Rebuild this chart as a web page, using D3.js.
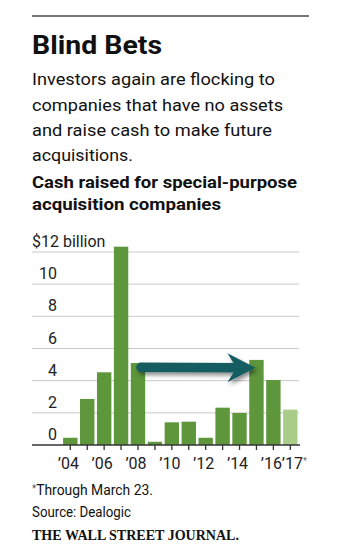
<!DOCTYPE html>
<html>
<head>
<meta charset="utf-8">
<script src="https://cdn.jsdelivr.net/npm/d3@7"></script>
<style>
  body { margin: 0; background: #fff; }
  text { font-family: Roboto, "Noto Sans", sans-serif; fill: #111; }
</style>
</head>
<body>
<div id="chart"></div>
<script>
// data
var years = ["2004", "2005", "2006", "2007", "2008", "2009", "2010",
             "2011", "2012", "2013", "2014", "2015", "2016", "2017"];
var cashRaised = [0.45, 2.86, 4.52, 12.33, 5.1, 0.2, 1.41,
                  1.45, 0.45, 2.32, 1.99, 5.29, 4.04, 2.2];
var partialYear = "2017";
var yTicks = [0, 2, 4, 6, 8, 10, 12];
var xLabels = { "2004": "\u201904", "2006": "\u201906", "2008": "\u201908", "2010": "\u201910",
                "2012": "\u201912", "2014": "\u201914", "2016": "\u201916", "2017": "\u201917" };
var arrowFrom = "2008", arrowTo = "2015", arrowLevel = 4.8;

var svg = d3.select("#chart")
    .append("svg")
    .attr("width", 354)
    .attr("height", 556);

// header rule + texts
svg.append("line")
    .attr("x1", 32).attr("x2", 309)
    .attr("y1", 16).attr("y2", 16)
    .attr("stroke", "#777")
    .attr("stroke-width", 2);

function addText(str, x, y, size, weight, width) {
    var t = svg.append("text")
        .attr("x", x).attr("y", y)
        .style("font-size", size + "px")
        .style("font-weight", weight)
        .text(str);
    if (width) t.attr("textLength", width).attr("lengthAdjust", "spacingAndGlyphs");
    return t;
}

addText("Blind Bets", 32, 54, 25.5, "bold", 130);
addText("Investors again are flocking to", 32, 85, 17, "normal", 243);
addText("companies that have no assets", 32, 110.5, 17, "normal", 251);
addText("and raise cash to make future", 32, 136, 17, "normal", 240);
addText("acquisitions.", 32, 161, 17, "normal", 101);
addText("Cash raised for special-purpose", 32, 188, 16.5, "bold", 265);
addText("acquisition companies", 32, 210, 16.5, "bold", 189);

// scales
var x = d3.scaleBand()
    .domain(years)
    .range([61.84, 298.76])
    .paddingInner(0.15)
    .paddingOuter(0.075);

var y = d3.scaleLinear()
    .domain([0, 12])
    .range([445, 252]);

// gridlines
svg.append("g")
    .selectAll("line")
    .data(yTicks.filter(function (d) { return d > 0; }))
    .enter()
    .append("line")
    .attr("x1", 32).attr("x2", 299)
    .attr("y1", function (d) { return y(d); })
    .attr("y2", function (d) { return y(d); })
    .attr("stroke", "#c8c8c8")
    .attr("stroke-width", 1);

// y labels
svg.append("g")
    .selectAll("text")
    .data(yTicks)
    .enter()
    .append("text")
    .attr("x", function (d) { return d === 12 ? 32 : 57; })
    .attr("y", function (d) { return y(d) - 5; })
    .attr("text-anchor", function (d) { return d === 12 ? "start" : "end"; })
    .style("font-size", "16px")
    .style("fill", "#222")
    .text(function (d) { return d === 12 ? "$12 billion" : d; });

// bars
svg.append("g")
    .selectAll("rect")
    .data(years)
    .enter()
    .append("rect")
    .attr("x", function (d) { return x(d); })
    .attr("y", function (d, i) { return y(cashRaised[i]); })
    .attr("width", x.bandwidth())
    .attr("height", function (d, i) { return y(0) - y(cashRaised[i]); })
    .attr("fill", function (d) { return d === partialYear ? "#a9cd88" : "#5e963c"; });

// baseline axis with ticks at every year
var xAxis = svg.append("g")
    .attr("transform", "translate(0," + y(0) + ")");
xAxis.append("line")
    .attr("x1", 32).attr("x2", 300)
    .attr("stroke", "#333")
    .attr("stroke-width", 1.3);
xAxis.selectAll(".tick")
    .data(years)
    .enter()
    .append("line")
    .attr("x1", function (d) { return x(d) + x.bandwidth() / 2; })
    .attr("x2", function (d) { return x(d) + x.bandwidth() / 2; })
    .attr("y1", 0).attr("y2", 5)
    .attr("stroke", "#333")
    .attr("stroke-width", 1.3);
var labels = xAxis.selectAll(".lbl")
    .data(years.filter(function (d) { return xLabels[d]; }))
    .enter()
    .append("text")
    .attr("x", function (d) { return x(d) + x.bandwidth() / 2 + (d === partialYear ? 4 : -2); })
    .attr("y", 24)
    .attr("text-anchor", "middle")
    .style("font-size", "16px")
    .style("fill", "#222")
    .text(function (d) { return xLabels[d]; });
labels.filter(function (d) { return d === partialYear; })
    .append("tspan")
    .attr("dy", -5)
    .style("font-size", "9px")
    .style("fill", "#666")
    .text("*");

// arrow annotation
var defs = svg.append("defs");
defs.append("filter")
    .attr("id", "shadow")
    .attr("x", "-20%").attr("y", "-50%")
    .attr("width", "140%").attr("height", "200%")
    .append("feDropShadow")
    .attr("dx", 2).attr("dy", 3)
    .attr("stdDeviation", 2.2)
    .attr("flood-color", "#000")
    .attr("flood-opacity", 0.45);

var ax0 = x(arrowFrom) + x.bandwidth() / 2 + 3,
    ax1 = x(arrowTo) + x.bandwidth() / 2 - 1,
    ay = y(arrowLevel);
var arrow = svg.append("g")
    .attr("filter", "url(#shadow)");
arrow.append("line")
    .attr("x1", ax0).attr("x2", ax1 - 16)
    .attr("y1", ay - 0.5).attr("y2", ay)
    .attr("stroke", "#155d62")
    .attr("stroke-width", 9.5)
    .attr("stroke-linecap", "round");
arrow.append("path")
    .attr("d", "M" + ax1 + "," + ay +
        "L" + (ax1 - 28) + "," + (ay - 14.5) +
        "L" + (ax1 - 19) + "," + ay +
        "L" + (ax1 - 28) + "," + (ay + 14.5) + "Z")
    .attr("fill", "#155d62");

// footnotes
var note = addText("", 32, 495, 14.5, "normal", 121);
note.append("tspan").style("font-size", "10px").attr("dy", -3).style("fill", "#555").text("*");
note.append("tspan").attr("dy", 3).text("Through March 23.");
addText("Source: Dealogic", 32, 517, 14.5, "normal", 99);
addText("THE WALL STREET JOURNAL.", 32, 540, 14, "bold", 207)
    .style("font-family", "'Liberation Serif', 'DejaVu Serif', serif");
</script>
</body>
</html>
